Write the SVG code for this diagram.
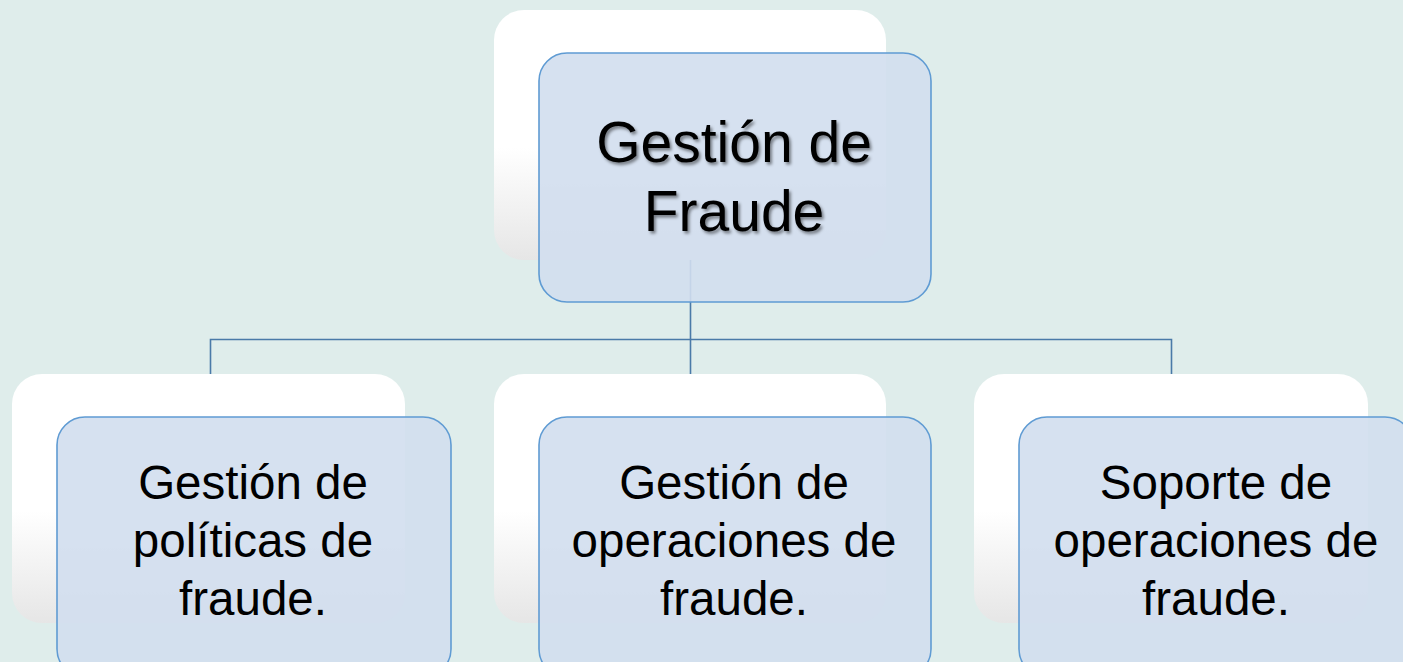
<svg xmlns="http://www.w3.org/2000/svg" width="1403" height="662" viewBox="0 0 1403 662">
<defs>
<linearGradient id="cardGrad" x1="0" y1="0" x2="0" y2="1">
<stop offset="0" stop-color="#FFFFFF"/>
<stop offset="0.55" stop-color="#FFFFFF"/>
<stop offset="1" stop-color="#E6E6E6"/>
</linearGradient>
<filter id="shadow" x="-10%" y="-10%" width="120%" height="130%">
<feDropShadow dx="2" dy="2.5" stdDeviation="1.6" flood-color="#000" flood-opacity="0.45"/>
</filter>
<style>
.card{fill:url(#cardGrad);}
.box{fill:#D2DEEE;fill-opacity:0.9;stroke:#5F9BD3;stroke-width:1.6;}
.conn{fill:none;stroke:#4A7AA8;stroke-width:1.6;}
.t{font-family:"Liberation Sans",Arial,sans-serif;fill:#000;text-anchor:middle;}
.top{font-size:57px;}
.sub{font-size:47.5px;}
</style>
</defs>
<rect x="0" y="0" width="1403" height="662" fill="#DFEDEB"/>
<g id="connectors">
<line class="conn" x1="690.5" y1="258" x2="690.5" y2="339.5"/>
<polyline class="conn" points="210.5,376 210.5,339.5 1171.5,339.5 1171.5,376"/>
<line class="conn" x1="690.5" y1="339.5" x2="690.5" y2="376"/>
</g>
<g id="node-top">
<rect class="card" x="494" y="10" width="392" height="250" rx="30"/>
<rect class="box" x="539" y="53" width="392" height="249" rx="28"/>
<g filter="url(#shadow)">
<text class="t top" x="734" y="162">Gestión de</text>
<text class="t top" x="734" y="231">Fraude</text>
</g>
</g>
<g id="node-politicas">
<rect class="card" x="12" y="374" width="393" height="249" rx="30"/>
<rect class="box" x="57" y="417" width="394" height="260" rx="28"/>
<text class="t sub" x="253" y="499">Gestión de</text>
<text class="t sub" x="253" y="557">políticas de</text>
<text class="t sub" x="253" y="615">fraude.</text>
</g>
<g id="node-operaciones">
<rect class="card" x="494" y="374" width="392" height="249" rx="30"/>
<rect class="box" x="539" y="417" width="392" height="260" rx="28"/>
<text class="t sub" x="734" y="499">Gestión de</text>
<text class="t sub" x="734" y="557">operaciones de</text>
<text class="t sub" x="734" y="615">fraude.</text>
</g>
<g id="node-soporte">
<rect class="card" x="974" y="374" width="394" height="249" rx="30"/>
<rect class="box" x="1019" y="417" width="394" height="260" rx="28"/>
<text class="t sub" x="1216" y="499">Soporte de</text>
<text class="t sub" x="1216" y="557">operaciones de</text>
<text class="t sub" x="1216" y="615">fraude.</text>
</g>
</svg>
